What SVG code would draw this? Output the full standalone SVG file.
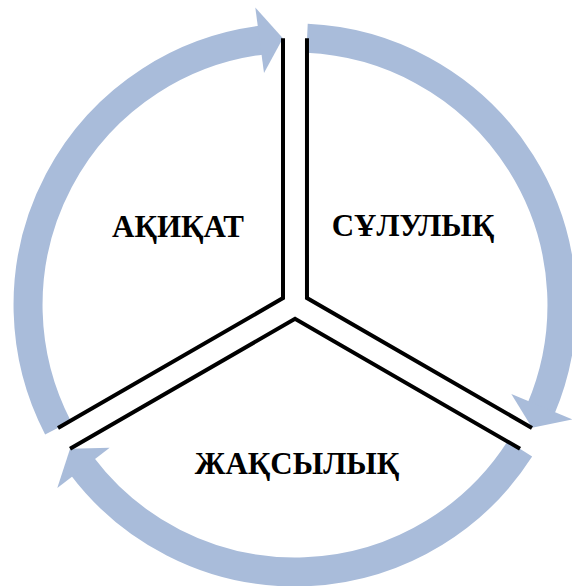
<svg xmlns="http://www.w3.org/2000/svg" xmlns:xlink="http://www.w3.org/1999/xlink" width="572" height="586" viewBox="0 0 572 586">
  <style>
    .band { fill: none; stroke: #A9BCDA; stroke-width: 29; stroke-linecap: butt; }
    .head { fill: #A9BCDA; stroke: none; }
    .wall { fill: none; stroke: #000; stroke-width: 4; stroke-linejoin: miter; stroke-linecap: butt; }
    .label { font-family: "Liberation Serif", "DejaVu Serif", serif; font-weight: bold; font-size: 31px; fill: #000; text-anchor: middle; }
  </style>
  <defs>
    <g id="arrow">
      <path class="band" d="M58,427.9 A267,267 0 0 1 262.6,40.0"/>
      <polygon class="head" points="255.3,7.6 282.9,38.3 264.0,73.1"/>
    </g>
    <path id="wall" class="wall" d="M283,38.3 L283,298.1 L58,428"/>
  </defs>
  <rect width="572" height="586" fill="#fff"/>
  <g id="connectors">
    <use xlink:href="#arrow" href="#arrow"/>
    <use xlink:href="#arrow" href="#arrow" transform="rotate(120 295 305)"/>
    <use xlink:href="#arrow" href="#arrow" transform="rotate(240 295 305)"/>
  </g>
  <g id="node-akikat">
    <use xlink:href="#wall" href="#wall"/>
    <text class="label" x="178" y="237">АҚИҚАТ</text>
  </g>
  <g id="node-sululyk">
    <use xlink:href="#wall" href="#wall" transform="rotate(120 295 305)"/>
    <text class="label" x="413" y="236">СҰЛУЛЫҚ</text>
  </g>
  <g id="node-zhaksylyk">
    <use xlink:href="#wall" href="#wall" transform="rotate(240 295 305)"/>
    <text class="label" x="297" y="474">ЖАҚСЫЛЫҚ</text>
  </g>
</svg>
